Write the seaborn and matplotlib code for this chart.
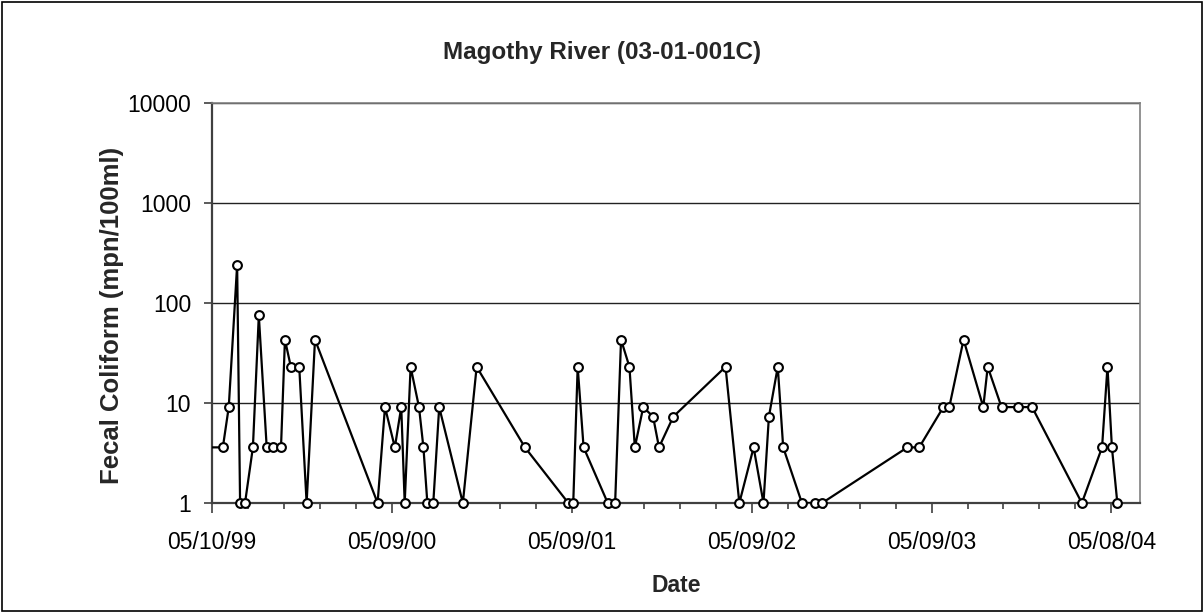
import numpy as np
import pandas as pd
import matplotlib
matplotlib.use("Agg")
import matplotlib.pyplot as plt
import matplotlib.dates as mdates
import seaborn as sns
from matplotlib.patches import Rectangle
from matplotlib.ticker import FixedLocator, NullLocator

# ---------------- data ----------------
sample_dates = [
    "1999-05-03", "1999-06-01", "1999-06-13", "1999-06-30", "1999-07-06", "1999-07-16",
    "1999-08-01", "1999-08-13", "1999-08-29", "1999-09-11", "1999-09-27", "1999-10-05",
    "1999-10-17", "1999-11-03", "1999-11-18", "1999-12-05", "2000-04-10", "2000-04-25",
    "2000-05-15", "2000-05-28", "2000-06-04", "2000-06-16", "2000-07-03", "2000-07-12",
    "2000-07-20", "2000-08-01", "2000-08-13", "2000-09-30", "2000-10-28", "2001-02-03",
    "2001-05-02", "2001-05-12", "2001-05-21", "2001-06-02", "2001-07-21", "2001-08-05",
    "2001-08-17", "2001-09-03", "2001-09-14", "2001-10-01", "2001-10-21", "2001-11-02",
    "2001-12-01", "2002-03-17", "2002-04-14", "2002-05-13", "2002-06-02", "2002-06-13",
    "2002-07-01", "2002-07-12", "2002-08-19", "2002-09-15", "2002-09-29", "2003-03-21",
    "2003-04-14", "2003-06-02", "2003-06-14", "2003-07-13", "2003-08-22", "2003-08-31",
    "2003-09-28", "2003-10-31", "2003-11-29", "2004-03-09", "2004-04-19", "2004-04-30",
    "2004-05-09", "2004-05-20",
]
fecal_coliform = [
    3.6, 3.6, 9.1, 240, 1, 1,
    3.6, 75, 3.6, 3.6, 3.6, 43,
    23, 23, 1, 43, 1, 9.1,
    3.6, 9.1, 1, 23, 9.1, 3.6,
    1, 1, 9.1, 1, 23, 3.6,
    1, 1, 23, 3.6, 1, 1,
    43, 23, 3.6, 9.1, 7.3, 3.6,
    7.3, 23, 1, 3.6, 1, 7.3,
    23, 3.6, 1, 1, 1, 3.6,
    3.6, 9.1, 9.1, 43, 9.1, 23,
    9.1, 9.1, 9.1, 1, 3.6, 23,
    3.6, 1,
]
x_tick_dates = ["1999-05-10", "2000-05-09", "2001-05-09", "2002-05-09", "2003-05-09", "2004-05-08"]
x_tick_labels = ["05/10/99", "05/09/00", "05/09/01", "05/09/02", "05/09/03", "05/08/04"]
y_ticks = [1, 10, 100, 1000, 10000]
y_tick_labels = ["1", "10", "100", "1000", "10000"]
x_start, x_end = "1999-05-10", "2004-07-05"

title = "Magothy River (03-01-001C)"
x_label = "Date"
y_label = "Fecal Coliform (mpn/100ml)"

# ---------------- style ----------------
sns.set_theme(style="white")
plt.rcParams['font.family'] = ['Liberation Sans', 'DejaVu Sans']

df = pd.DataFrame({"Date": pd.to_datetime(sample_dates), "FC": fecal_coliform})
xmin, xmax = pd.Timestamp(x_start), pd.Timestamp(x_end)

W, H = 1204, 613
fig = plt.figure(figsize=(W / 100, H / 100), dpi=100)
fig.patch.set_facecolor("white")
L, R, T, B = 212, 1140, 103, 503
ax = fig.add_axes([L / W, 1 - B / H, (R - L) / W, (B - T) / H])

sns.lineplot(data=df, x="Date", y="FC", ax=ax, color="black", lw=1.6,
             estimator=None, sort=False, zorder=3)
vis = df[(df["Date"] >= xmin) & (df["Date"] <= xmax)]
sns.scatterplot(data=vis, x="Date", y="FC", ax=ax, s=40, marker="o",
                facecolor="white", edgecolor="black", linewidth=1.5,
                zorder=4, clip_on=False)

ax.set_yscale("log")
ax.set_ylim(1, 10000)
ax.set_xlim(xmin, xmax)

maj = pd.to_datetime(x_tick_dates)
ax.xaxis.set_major_locator(FixedLocator(mdates.date2num(maj)))
ax.set_xticklabels(x_tick_labels)
minor = pd.date_range(xmin, xmax, freq="73D")
ax.xaxis.set_minor_locator(FixedLocator(mdates.date2num(minor)))

ax.yaxis.set_major_locator(FixedLocator(y_ticks))
ax.set_yticklabels(y_tick_labels)
ax.yaxis.set_minor_locator(NullLocator())

ax.grid(axis="y", which="major", color="#222222", lw=1.0)
ax.grid(axis="x", visible=False)

ax.tick_params(axis="x", which="major", bottom=True, direction="out", length=7,
               width=1.2, color="#404040", labelsize=16.5, pad=13, labelcolor="black")
ax.tick_params(axis="x", which="minor", bottom=True, direction="out", length=4,
               width=1.2, color="#404040")
ax.tick_params(axis="y", which="major", left=True, direction="out", length=6,
               width=1.2, color="#404040", labelsize=16.5, pad=9, labelcolor="black")

for s in ["left", "bottom"]:
    ax.spines[s].set_color("#404040")
    ax.spines[s].set_linewidth(1.6)
for s in ["top", "right"]:
    ax.spines[s].set_color("#808080")
    ax.spines[s].set_linewidth(1.2)

ax.set_xlabel("")
ax.set_ylabel("")

fig.text(602 / W, 1 - 52 / H, title, ha="center", va="center",
         fontsize=17.5, fontweight="bold")
fig.text(676 / W, 1 - 585 / H, x_label, ha="center", va="center",
         fontsize=16.5, fontweight="bold")
fig.text(112 / W, 1 - 315 / H, y_label, ha="center", va="center",
         rotation=90, fontsize=18.5, fontweight="bold")

fig.patches.append(Rectangle((2 / W, 2 / H), 1 - 4 / W, 1 - 4 / H,
                             transform=fig.transFigure, fill=False,
                             edgecolor="black", lw=1.2))

fig.savefig("out.png", dpi=100, facecolor="white")
